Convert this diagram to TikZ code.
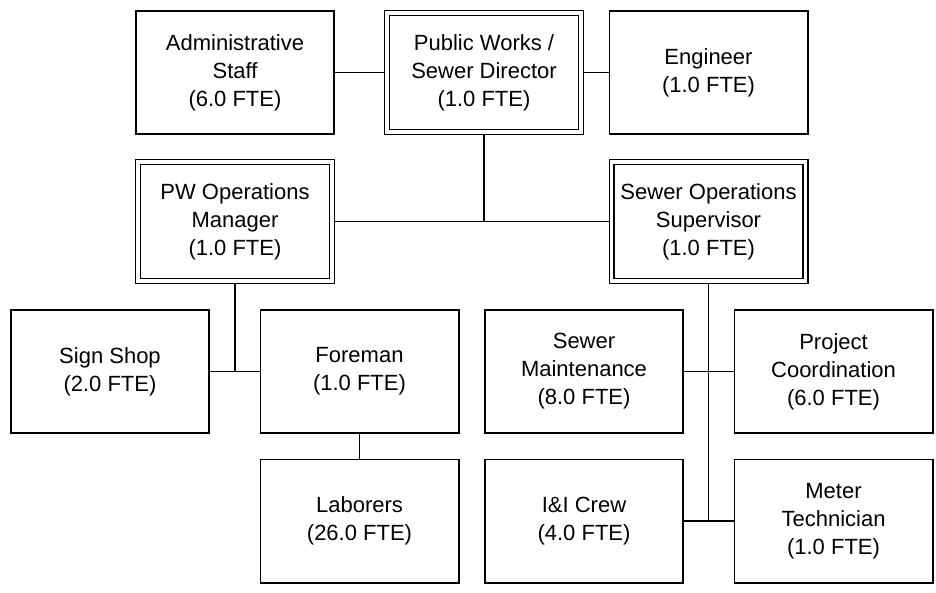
\documentclass[tikz,border=0pt]{standalone}
\usepackage{fontspec}
\setmainfont{Liberation Sans}
\pgfdeclarelayer{paper}
\pgfdeclarelayer{wires}
\pgfsetlayers{paper,wires,main}
\begin{document}
\begin{tikzpicture}[x=1pt,y=-1pt,
  unit/.style={draw=black, fill=white, line width=1.6pt,
    minimum width=198.4pt, minimum height=123.4pt, inner sep=0pt,
    align=center, font=\fontsize{22}{28}\selectfont},
  lead/.style={draw=black, fill=white, line width=1.4pt, double=white,
    double distance=3.5pt, minimum width=193.7pt, minimum height=118.7pt,
    inner sep=0pt, align=center, font=\fontsize{22}{28}\selectfont},
  wire/.style={draw=black, line width=1.8pt}]
  \begin{pgfonlayer}{paper}
    \useasboundingbox[fill=white] (0,0) rectangle (936,592);
  \end{pgfonlayer}

  % top row
  \node[unit] (admin) at (235,72.5) {Administrative\\Staff\\(6.0 FTE)};
  \node[lead] (dir)   at (484,72.5) {Public Works /\\Sewer Director\\(1.0 FTE)};
  \node[unit] (eng)   at (708.5,72.5) {Engineer\\(1.0 FTE)};

  % managers
  \node[lead] (pwops)  at (235,221.5) {PW Operations\\Manager\\(1.0 FTE)};
  \node[lead] (sewops) at (708.5,221.5) {Sewer Operations\\Supervisor\\(1.0 FTE)};

  % public works side
  \node[unit] (sign)  at (110,371.5) {Sign Shop\\(2.0 FTE)};
  \node[unit] (fore)  at (359.5,371.5) {Foreman\\(1.0 FTE)};
  \node[unit] (labor) at (359.5,521) {Laborers\\(26.0 FTE)};

  % sewer side
  \node[unit] (maint) at (584,371.5) {Sewer\\Maintenance\\(8.0 FTE)};
  \node[unit] (proj)  at (833.5,371.5) {Project\\Coordination\\(6.0 FTE)};
  \node[unit] (ii)    at (584,521) {I\&I Crew\\(4.0 FTE)};
  \node[unit] (meter) at (833.5,521) {Meter\\Technician\\(1.0 FTE)};

  \begin{pgfonlayer}{wires}
    \draw[wire] (admin.east) -- (dir.west);
    \draw[wire] (dir.east) -- (eng.west);
    \draw[wire] (pwops.east) -- (sewops.west);
    \draw[wire] (dir.south) -- (dir.south |- pwops.east);
    \draw[wire] (pwops.south) -- (pwops.south |- sign.east);
    \draw[wire] (sign.east) -- (fore.west);
    \draw[wire] (fore.south) -- (labor.north);
    \draw[wire] (sewops.south) -- (sewops.south |- ii.east);
    \draw[wire] (maint.east) -- (proj.west);
    \draw[wire] (ii.east) -- (meter.west);
  \end{pgfonlayer}
\end{tikzpicture}
\end{document}
